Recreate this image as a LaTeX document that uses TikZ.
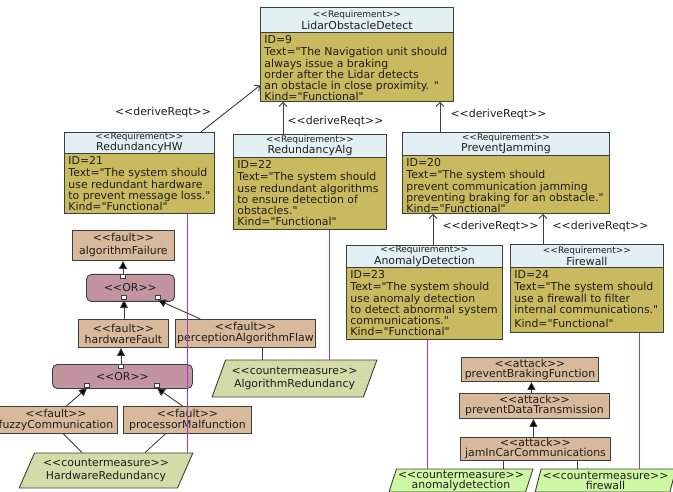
\documentclass[tikz,border=0pt]{standalone}
\usepackage{fontspec}
\newfontfamily\dvs{DejaVu Sans}
\usetikzlibrary{arrows.meta,shapes.geometric}
\definecolor{hdrC}{HTML}{E2F0F3}
\definecolor{bodyC}{HTML}{C9BA60}
\definecolor{faultC}{HTML}{D8B99B}
\definecolor{orC}{HTML}{C1949F}
\definecolor{cmC}{HTML}{D3DCA8}
\definecolor{cmbC}{HTML}{CDF7A3}
\definecolor{edgeC}{HTML}{3E3E3E}
\definecolor{purpC}{HTML}{9B3FC0}
\definecolor{txtC}{HTML}{1E1E1E}
\newcommand\dgFont[2]{\dvs\fontsize{#1}{#2}\selectfont}
\newcommand\dgSt{\dgFont{9}{10}}
\begin{document}
\begin{tikzpicture}[x=1pt,y=-1pt,
 box/.style={draw=edgeC,line width=0.9pt,anchor=north west,inner sep=0pt,text=txtC},
 hdr/.style={box,fill=hdrC,align=center,font=\dgFont{10.9}{11.5}},
 bod/.style={box,fill=bodyC,inner xsep=4pt,inner ysep=2.8pt,font=\dgFont{10.9}{11.1}},
 flt/.style={box,fill=faultC,align=center,font=\dgFont{10.9}{11}},
 orb/.style={box,fill=orC,rounded corners=5pt,align=center,font=\dgFont{10.9}{11}},
 port/.style={draw=edgeC,fill=white,line width=0.6pt,minimum size=4.5pt,inner sep=0pt},
 cmbox/.style={draw=edgeC,line width=0.9pt,fill=cmC,trapezium,trapezium stretches=true,inner sep=0pt,align=center,text=txtC,font=\dgFont{10.9}{13.5}},
 der/.style={draw=edgeC,line width=0.9pt,-{Straight Barb[length=4pt,width=8pt]}},
 lbl/.style={font=\dgFont{10.9}{12},text=txtC,anchor=base,inner sep=0pt},
 ftarr/.style={draw=edgeC,line width=0.9pt,-{Triangle[length=8pt,width=8pt,fill=black]}},
 lnk/.style={draw=edgeC,line width=0.8pt},
 purp/.style={draw=purpC,line width=1.2pt},
]
\useasboundingbox (0,0) rectangle (673,492);
\clip (0,0) rectangle (673,492);

% requirements
\node[hdr,minimum width=193,minimum height=25] (lidH) at (260,7) {{\dgSt <<Requirement>>}\\LidarObstacleDetect};
\node[bod] (lidB) at (260,32) {\parbox[t][63.4pt][t]{185pt}{\strut ID=9\\Text="The Navigation unit should\\always issue a braking\\order after the Lidar detects\\an obstacle in close proximity. "\\Kind="Functional"}};

\node[hdr,minimum width=150,minimum height=21] (rhwH) at (64,132) {{\dgSt <<Requirement>>}\\RedundancyHW};
\node[bod] (rhwB) at (64,153) {\parbox[t][54.4pt][t]{142pt}{\strut ID=21\\Text="The system should\\use redundant hardware\\to prevent message loss."\\Kind="Functional"}};

\node[hdr,minimum width=153,minimum height=23] (ralgH) at (233,134) {{\dgSt <<Requirement>>}\\RedundancyAlg};
\node[bod] (ralgB) at (233,157) {\parbox[t][66.4pt][t]{145pt}{\strut ID=22\\Text="The system should\\use redundant algorithms\\to ensure detection of\\obstacles."\\Kind="Functional"}};

\node[hdr,minimum width=207,minimum height=23] (pjH) at (402,132) {{\dgSt <<Requirement>>}\\PreventJamming};
\node[bod] (pjB) at (402,155) {\parbox[t][52.4pt][t]{199pt}{\strut ID=20\\Text="The system should\\prevent communication jamming\\preventing braking for an obstacle."\\Kind="Functional"}};

\node[hdr,minimum width=156,minimum height=22] (anH) at (346,245) {{\dgSt <<Requirement>>}\\AnomalyDetection};
\node[bod] (anB) at (346,267) {\parbox[t][66.4pt][t]{148pt}{\strut ID=23\\Text="The system should\\use anomaly detection\\to detect abnormal system\\communications."\\Kind="Functional"}};

\node[hdr,minimum width=153,minimum height=23] (fwH) at (510,244) {{\dgSt <<Requirement>>}\\Firewall};
\node[bod] (fwB) at (510,267) {\parbox[t][59.4pt][t]{145pt}{\strut ID=24\\Text="The system should\\use a firewall to filter\\internal communications."\\[3pt]Kind="Functional"}};

% fault tree
\node[flt,minimum width=102,minimum height=30,font=\dgFont{10.9}{13}] (algF) at (72,230) {<<fault>>\\algorithmFailure};
\node[orb,minimum width=88,minimum height=27] (or1) at (86,274) {<<OR>>};
\node[flt,minimum width=90,minimum height=28] (hwF) at (78,319) {<<fault>>\\hardwareFault};
\node[flt,minimum width=140,minimum height=28] (percF) at (175,319) {<<fault>>\\perceptionAlgorithmFlaw};
\node[orb,minimum width=140,minimum height=24] (or2) at (52,364) {<<OR>>};
\node[flt,minimum width=123,minimum height=27,font=\dgFont{10.9}{10.5}] (fuzzy) at (-6,406) {<<fault>>\\fuzzyCommunication};
\node[flt,minimum width=128,minimum height=27,font=\dgFont{10.9}{10.5}] (proc) at (123,406) {<<fault>>\\processorMalfunction};

\node[port] (or1t) at (123,276.5) {};
\node[port] (or1a) at (124,297.5) {};
\node[port] (or1b) at (158,297.5) {};
\node[port] (or2t) at (121,366.5) {};
\node[port] (or2a) at (87,385.5) {};
\node[port] (or2b) at (157,385.5) {};

% attacks
\node[flt,minimum width=137,minimum height=24,font=\dgFont{10.9}{10}] (pbf) at (461,357) {<<attack>>\\preventBrakingFunction};
\node[flt,minimum width=150,minimum height=25,font=\dgFont{10.9}{10}] (pdt) at (459,393) {<<attack>>\\preventDataTransmission};
\node[flt,minimum width=150,minimum height=23,font=\dgFont{10.9}{10}] (jam) at (460,437) {<<attack>>\\jamInCarCommunications};

% countermeasures
\node[cmbox,trapezium left angle=60,trapezium right angle=120,minimum width=174,minimum height=35] (hwr) at (106,470.5) {<<countermeasure>>\\HardwareRedundancy};
\node[cmbox,trapezium left angle=62,trapezium right angle=118,minimum width=165,minimum height=37,font=\dgFont{10.9}{13.3}] (algR) at (294.5,378.5) {<<countermeasure>>\\AlgorithmRedundancy};
\node[cmbox,fill=cmbC,trapezium left angle=70,trapezium right angle=110,minimum width=144,minimum height=23,font=\dgFont{10.9}{10}] (cmAn) at (461,480.5) {<<countermeasure>>\\anomalydetection};
\node[cmbox,fill=cmbC,trapezium left angle=72,trapezium right angle=108,minimum width=141,minimum height=23,font=\dgFont{10.9}{10}] (cmFw) at (605.5,480.5) {<<countermeasure>>\\firewall};

% deriveReqt connectors
\draw[der] ([xshift=-14pt]rhwH.north east) -- ([yshift=-18.5pt]lidB.west);
\draw[der] ([xshift=50pt]ralgH.north west) coordinate (d2) -- (d2 |- lidB.south);
\draw[der] ([xshift=38pt]pjH.north west) coordinate (d3) -- (d3 |- lidB.south);
\draw[der] ([xshift=87pt]anH.north west) coordinate (d4) -- (d4 |- pjB.south);
\draw[der] ([xshift=33pt]fwH.north west) coordinate (d5) -- (d5 |- pjB.south);
\node[lbl] (l1) at (163,115.7) {<<deriveReqt>>};
\node[lbl] (l2) at (335.5,125) {<<deriveReqt>>};
\node[lbl] (l3) at (498.5,117.7) {<<deriveReqt>>};
\node[lbl] (l4) at (490.5,229.7) {<<deriveReqt>>};
\node[lbl] (l5) at (600.5,229.7) {<<deriveReqt>>};

% requirement to countermeasure
\draw[purp] ([xshift=48pt]rhwB.south) coordinate (m1) -- (m1 |- hwr.north);
\draw[purp] ([xshift=19.5pt]ralgB.south) coordinate (m2) -- (m2 |- algR.north);
\draw[purp] ([xshift=3pt]anB.south) coordinate (m3) -- (m3 |- cmAn.north);
\draw[purp] ([xshift=52.5pt]fwB.south) coordinate (m4) -- (m4 |- cmFw.north);

% fault tree arrows
\draw[ftarr] (or1t.north) -- (or1t.north |- algF.south);
\draw[ftarr] (or1a.south |- hwF.north) -- (or1a.south);
\draw[ftarr] ([xshift=-45pt]percF.north) -- (or1b.south);
\draw[ftarr] (or2t.north) -- (or2t.north |- hwF.south);
\draw[ftarr] ([xshift=10.5pt]fuzzy.north) -- (or2a.south);
\draw[ftarr] ([xshift=-5pt]proc.north) -- (or2b.south);
\draw[ftarr] ([xshift=-2pt]jam.north) coordinate (q1) -- (q1 |- pdt.south);
\draw[ftarr] ([xshift=-3pt]pdt.north) coordinate (q2) -- (q2 |- pbf.south);

% mitigation links
\draw[lnk] ([xshift=7.5pt]fuzzy.south) -- ([xshift=-24pt]hwr.north);
\draw[lnk] ([xshift=-22pt]proc.south) -- ([xshift=39pt]hwr.north);
\draw[lnk] ([xshift=17pt]percF.south) coordinate (k1) -- (k1 |- algR.north);
\draw[lnk] ([xshift=-32pt]jam.south) coordinate (k2) -- (k2 |- cmAn.north);
\draw[lnk] ([xshift=42pt]jam.south) coordinate (k3) -- (k3 |- cmFw.north);
\end{tikzpicture}
\end{document}
